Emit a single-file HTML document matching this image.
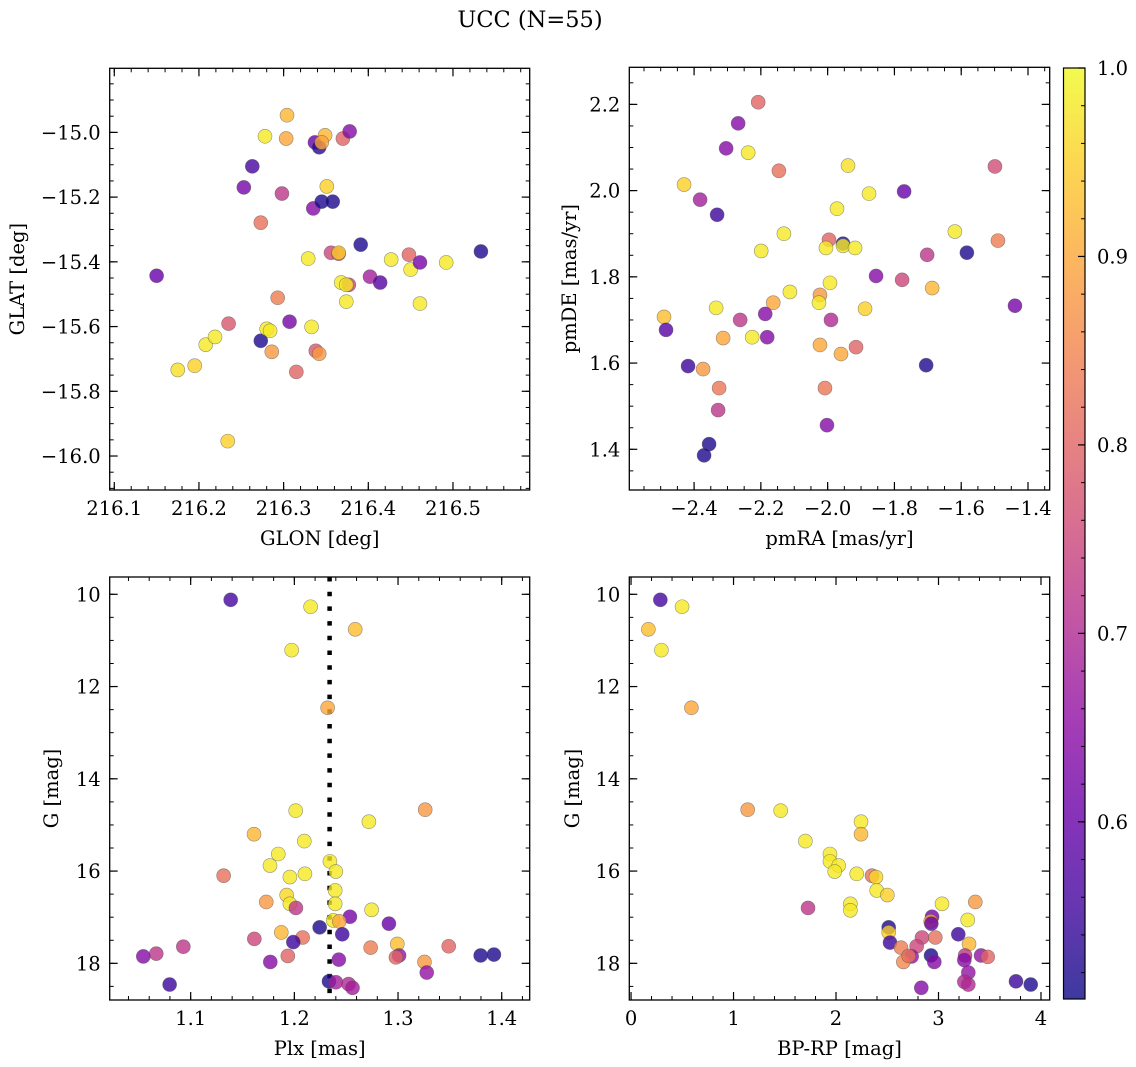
<!DOCTYPE html>
<html><head><meta charset="utf-8"><style>
html,body{margin:0;padding:0;background:#fff;}
svg{display:block;font-family:"DejaVu Serif","Liberation Serif",serif;}
</style></head><body>
<svg id="fig" width="1136" height="1067" viewBox="0 0 1136 1067" xmlns="http://www.w3.org/2000/svg">
<defs><linearGradient id="cbg" x1="0" y1="1" x2="0" y2="0">
<stop offset="0" stop-color="#0d0887"/><stop offset="0.1" stop-color="#41049d"/><stop offset="0.2" stop-color="#6a00a8"/><stop offset="0.3" stop-color="#8f0da4"/><stop offset="0.4" stop-color="#b12a90"/><stop offset="0.5" stop-color="#cc4778"/><stop offset="0.6" stop-color="#e16462"/><stop offset="0.7" stop-color="#f2844b"/><stop offset="0.8" stop-color="#fca636"/><stop offset="0.9" stop-color="#fcce25"/><stop offset="1" stop-color="#f0f921"/>
</linearGradient></defs>
<text x="530" y="27" font-size="22.5" text-anchor="middle">UCC (N=55)</text>
</svg>
<script>
const p1_glon=[216.150,216.175,216.195,216.208,216.219,216.235,216.234,216.253,216.263,216.273,216.273,216.278,216.280,216.284,216.286,216.293,216.298,216.303,216.304,216.307,216.315,216.329,216.333,216.335,216.337,216.342,216.338,216.342,216.345,216.349,216.345,216.351,216.356,216.358,216.365,216.365,216.368,216.377,216.374,216.374,216.370,216.378,216.391,216.402,216.414,216.427,216.448,216.450,216.461,216.461,216.492,216.533];
const p1_glat=[-15.443,-15.734,-15.721,-15.656,-15.632,-15.591,-15.954,-15.170,-15.105,-15.279,-15.644,-15.012,-15.607,-15.613,-15.678,-15.511,-15.189,-15.019,-14.947,-15.585,-15.740,-15.390,-15.601,-15.235,-15.031,-15.046,-15.675,-15.684,-15.214,-15.009,-15.031,-15.167,-15.372,-15.214,-15.375,-15.372,-15.464,-15.471,-15.471,-15.523,-15.019,-14.997,-15.347,-15.446,-15.464,-15.393,-15.378,-15.424,-15.402,-15.529,-15.402,-15.368];
const p1_prob=[.60,.97,.95,.98,.98,.78,.95,.62,.56,.82,.52,.98,.98,.98,.88,.84,.72,.90,.92,.62,.80,.98,.98,.64,.60,.53,.78,.88,.52,.92,.90,.95,.75,.52,.75,.95,.98,.75,.98,.98,.80,.64,.52,.68,.58,.98,.80,.98,.62,.98,.98,.52];
const p2_pmra=[-2.208,-2.268,-2.304,-2.238,-2.146,-1.939,-1.499,-2.430,-2.382,-2.331,-1.876,-1.771,-1.972,-2.131,-2.199,-1.996,-1.954,-1.954,-2.005,-1.918,-1.619,-1.490,-1.702,-1.583,-1.855,-1.777,-1.687,-1.439,-1.993,-2.113,-2.023,-2.026,-2.163,-2.334,-1.888,-2.490,-2.484,-2.262,-2.187,-1.990,-2.313,-2.226,-2.181,-2.023,-1.960,-1.915,-2.418,-2.373,-1.705,-2.325,-2.008,-2.328,-2.002,-2.355,-2.370];
const p2_pmde=[2.205,2.156,2.098,2.088,2.046,2.058,2.056,2.014,1.979,1.944,1.993,1.998,1.958,1.900,1.860,1.886,1.877,1.872,1.867,1.867,1.905,1.884,1.851,1.856,1.802,1.793,1.774,1.733,1.786,1.765,1.758,1.740,1.740,1.728,1.726,1.707,1.677,1.700,1.714,1.700,1.658,1.660,1.660,1.642,1.621,1.637,1.593,1.586,1.595,1.542,1.542,1.491,1.456,1.412,1.386];
const p2_prob=[.80,.64,.64,.98,.82,.97,.76,.95,.68,.55,.98,.60,.98,.98,.98,.80,.52,.98,.98,.98,.98,.84,.72,.52,.64,.75,.92,.62,.98,.98,.88,.98,.90,.98,.95,.93,.58,.72,.64,.70,.90,.98,.64,.90,.90,.80,.55,.88,.52,.83,.83,.72,.64,.52,.52];
const p3_plx=[1.1386,1.2157,1.2587,1.1974,1.2321,1.2013,1.3262,1.2719,1.1611,1.2096,1.1845,1.1765,1.2343,1.2400,1.1318,1.1957,1.2102,1.2394,1.1926,1.2394,1.1729,1.1957,1.2015,1.2745,1.2536,1.2375,1.2433,1.2912,1.2244,1.2462,1.1874,1.2080,1.1614,1.1990,1.2993,1.2736,1.3489,1.0929,1.0668,1.0543,1.0797,1.1768,1.1937,1.2429,1.3010,1.2980,1.3255,1.3277,1.3797,1.3925,1.2334,1.2401,1.2523,1.2561];
const p3_g=[10.12,10.27,10.76,11.21,12.46,14.69,14.67,14.93,15.20,15.35,15.63,15.88,15.79,16.01,16.10,16.13,16.06,16.42,16.52,16.71,16.67,16.71,16.80,16.84,16.99,17.07,17.09,17.14,17.22,17.37,17.33,17.44,17.47,17.54,17.58,17.66,17.63,17.64,17.79,17.85,18.46,17.97,17.84,17.92,17.83,17.87,17.97,18.20,17.83,17.81,18.39,18.41,18.45,18.53];
const p3_prob=[.56,.98,.93,.98,.90,.98,.88,.98,.92,.98,.98,.98,.98,.98,.82,.98,.98,.98,.96,.98,.88,.98,.72,.98,.62,.98,.90,.60,.52,.55,.92,.82,.75,.55,.93,.84,.80,.72,.72,.64,.55,.64,.80,.64,.66,.80,.88,.66,.52,.52,.52,.68,.70,.68];
const p4_bprp=[0.286,0.498,0.169,0.296,0.589,1.138,1.460,2.244,2.244,1.701,1.941,1.941,2.026,1.987,2.202,2.351,2.390,2.397,2.501,1.727,2.140,2.140,3.034,3.359,2.937,2.924,2.930,3.285,2.514,2.514,2.527,3.193,2.839,2.969,3.298,2.634,2.787,2.738,2.657,2.709,2.927,2.959,3.259,3.252,3.415,3.480,3.291,3.252,3.291,2.832,3.756,3.900];
const p4_g=[10.12,10.27,10.76,11.21,12.46,14.67,14.69,14.93,15.20,15.35,15.63,15.79,15.88,16.01,16.06,16.10,16.13,16.42,16.52,16.80,16.71,16.85,16.71,16.67,16.99,17.09,17.14,17.06,17.22,17.33,17.55,17.37,17.44,17.44,17.58,17.66,17.63,17.85,17.97,17.84,17.83,17.97,17.83,17.93,17.83,17.86,18.20,18.40,18.46,18.53,18.39,18.46];
const p4_prob=[.56,.98,.93,.98,.90,.88,.98,.98,.92,.98,.98,.98,.98,.98,.98,.82,.96,.98,.95,.72,.98,.98,.98,.88,.62,.90,.60,.98,.52,.95,.55,.55,.75,.82,.92,.84,.75,.66,.86,.82,.52,.64,.72,.64,.66,.80,.66,.70,.70,.64,.55,.52];
const plx_median=[1.234];
const cb_ticks=[0.6,0.7,0.8,0.9,1.0];
const VMIN=0.506,VMAX=1.0;

const NS="http://www.w3.org/2000/svg";
const svg=document.getElementById('fig');
const FS=19.5;
function mk(tag,attrs,parent){const e=document.createElementNS(NS,tag);for(const k in attrs)e.setAttribute(k,attrs[k]);(parent||svg).appendChild(e);return e;}
const stops=[[13,8,135],[65,4,157],[106,0,168],[143,13,164],[177,42,144],[204,71,120],[225,100,98],[242,132,75],[252,166,54],[252,206,37],[240,249,33]];
function plasma(p){let t=(p-VMIN)/(VMAX-VMIN);t=Math.max(0,Math.min(1,t))*10;const i=Math.min(9,Math.floor(t)),f=t-i;const a=stops[i],b=stops[i+1];return `rgb(${Math.round(a[0]+(b[0]-a[0])*f)},${Math.round(a[1]+(b[1]-a[1])*f)},${Math.round(a[2]+(b[2]-a[2])*f)})`;}
function fmt(v,d){let s=v.toFixed(d);if(v<0)s='\u2212'+s.slice(1);return s;}

function panel(cfg){
  const g=mk('g',{});
  
  
  const {L,T,R,B,xmin,xmax,ymin,ymax,yinv}=cfg;
  const sx=v=>L+(v-xmin)/(xmax-xmin)*(R-L);
  const sy=yinv?(v=>T+(v-ymin)/(ymax-ymin)*(B-T)):(v=>B-(v-ymin)/(ymax-ymin)*(B-T));
  const eps=1e-9;
  const mticks=mk('g',{stroke:'#000','stroke-width':1},g);
  
  
  for(let v=Math.ceil(xmin/cfg.xminor-eps)*cfg.xminor;v<=xmax+eps;v+=cfg.xminor){const x=sx(v);mk('line',{x1:x,x2:x,y1:B,y2:B-4},mticks);mk('line',{x1:x,x2:x,y1:T,y2:T+4},mticks);}
  for(let v=Math.ceil(ymin/cfg.yminor-eps)*cfg.yminor;v<=ymax+eps;v+=cfg.yminor){const y=sy(v);mk('line',{x1:L,x2:L+4,y1:y,y2:y},mticks);mk('line',{x1:R,x2:R-4,y1:y,y2:y},mticks);}
  cfg.xticks.forEach(v=>{const x=sx(v);
    mk('line',{x1:x,x2:x,y1:B,y2:B-8,stroke:'#000','stroke-width':1.2},g);mk('line',{x1:x,x2:x,y1:T,y2:T+8,stroke:'#000','stroke-width':1.2},g);
    const t=mk('text',{x:x,y:B+25,'font-size':FS,'text-anchor':'middle'},g);t.textContent=fmt(v,cfg.xdec);
    
    });
  cfg.yticks.forEach(v=>{const y=sy(v);
    mk('line',{x1:L,x2:L+8,y1:y,y2:y,stroke:'#000','stroke-width':1.2},g);mk('line',{x1:R,x2:R-8,y1:y,y2:y,stroke:'#000','stroke-width':1.2},g);
    const t=mk('text',{x:L-9,y:y+7,'font-size':FS,'text-anchor':'end'},g);t.textContent=fmt(v,cfg.ydec);
    
    });
  if(cfg.vline){cfg.vline.forEach(v=>{const l=mk('line',{x1:sx(v),x2:sx(v),y1:T,y2:B,stroke:'#000','stroke-width':4.5,'stroke-dasharray':'4.5 10.2'},g);
    
    });}
  const pts=mk('g',{},g);
  
  
  const n=Math.min(cfg.xs.length,cfg.ys.length,cfg.ps.length);
  for(let i=0;i<n;i++){
    const c=mk('circle',{cx:sx(cfg.xs[i]),cy:sy(cfg.ys[i]),r:7,fill:plasma(cfg.ps[i]),'fill-opacity':0.8,stroke:'rgba(80,80,80,0.6)','stroke-width':0.6},pts);
    
    
  }
  const fr=mk('rect',{x:L,y:T,width:R-L,height:B-T,fill:'none',stroke:'#000','stroke-width':1.3},g);
  
  
  const xl=mk('text',{x:(L+R)/2,y:B+55,'font-size':FS,'text-anchor':'middle'},g);xl.textContent=cfg.xlabel;
  
  
  const yl=mk('text',{x:0,y:0,'font-size':FS,'text-anchor':'middle',transform:`translate(${cfg.ylx},${(T+B)/2}) rotate(-90)`},g);yl.textContent=cfg.ylabel;
  
  
}

panel({name:'glon-glat-panel',L:109.7,T:68.3,R:529.7,B:490,xmin:216.0946,xmax:216.5906,ymin:-16.105,ymax:-14.802,
  xticks:[216.1,216.2,216.3,216.4,216.5],xdec:1,yticks:[-16.0,-15.8,-15.6,-15.4,-15.2,-15.0],ydec:1,xminor:0.02,yminor:0.05,
  xs:p1_glon,ys:p1_glat,ps:p1_prob,xlabel:'GLON [deg]',ylabel:'GLAT [deg]',ylx:24});
panel({name:'pm-panel',L:629.3,T:67.3,R:1049.7,B:490,xmin:-2.594,xmax:-1.335,ymin:1.3056,ymax:2.286,
  xticks:[-2.4,-2.2,-2.0,-1.8,-1.6,-1.4],xdec:1,yticks:[1.4,1.6,1.8,2.0,2.2],ydec:1,xminor:0.05,yminor:0.05,
  xs:p2_pmra,ys:p2_pmde,ps:p2_prob,xlabel:'pmRA [mas/yr]',ylabel:'pmDE [mas/yr]',ylx:576});
panel({name:'plx-g-panel',L:109.7,T:577,R:529.7,B:1000,xmin:1.0219,xmax:1.427,ymin:9.625,ymax:18.795,yinv:true,
  xticks:[1.1,1.2,1.3,1.4],xdec:1,yticks:[10,12,14,16,18],ydec:0,xminor:0.02,yminor:0.5,
  xs:p3_plx,ys:p3_g,ps:p3_prob,vline:plx_median,xlabel:'Plx [mas]',ylabel:'G [mag]',ylx:58});
panel({name:'cmd-panel',L:629.3,T:577,R:1049.7,B:1000,xmin:-0.017,xmax:4.085,ymin:9.625,ymax:18.795,yinv:true,
  xticks:[0,1,2,3,4],xdec:0,yticks:[10,12,14,16,18],ydec:0,xminor:0.2,yminor:0.5,
  xs:p4_bprp,ys:p4_g,ps:p4_prob,xlabel:'BP-RP [mag]',ylabel:'G [mag]',ylx:579});

const cb=mk('g',{});


const cT=68,cB=999,cL=1063.5,cR=1085;
const cy=v=>cB-(v-VMIN)/(VMAX-VMIN)*(cB-cT);
mk('rect',{x:cL,y:cT,width:cR-cL,height:cB-cT,fill:'url(#cbg)','fill-opacity':0.8},cb);
for(let v=0.52;v<=1.0001;v+=0.02){const y=cy(v);mk('line',{x1:cR,x2:cR-4,y1:y,y2:y,stroke:'#000','stroke-width':1},cb);}
cb_ticks.forEach(v=>{const y=cy(v);mk('line',{x1:cR,x2:cR-7,y1:y,y2:y,stroke:'#000','stroke-width':1.2},cb);
  const t=mk('text',{x:cR+12,y:y+7,'font-size':FS},cb);t.textContent=v.toFixed(1);
  
  });
mk('rect',{x:cL,y:cT,width:cR-cL,height:cB-cT,fill:'none',stroke:'#000','stroke-width':1.2},cb);
</script>
</body></html>
